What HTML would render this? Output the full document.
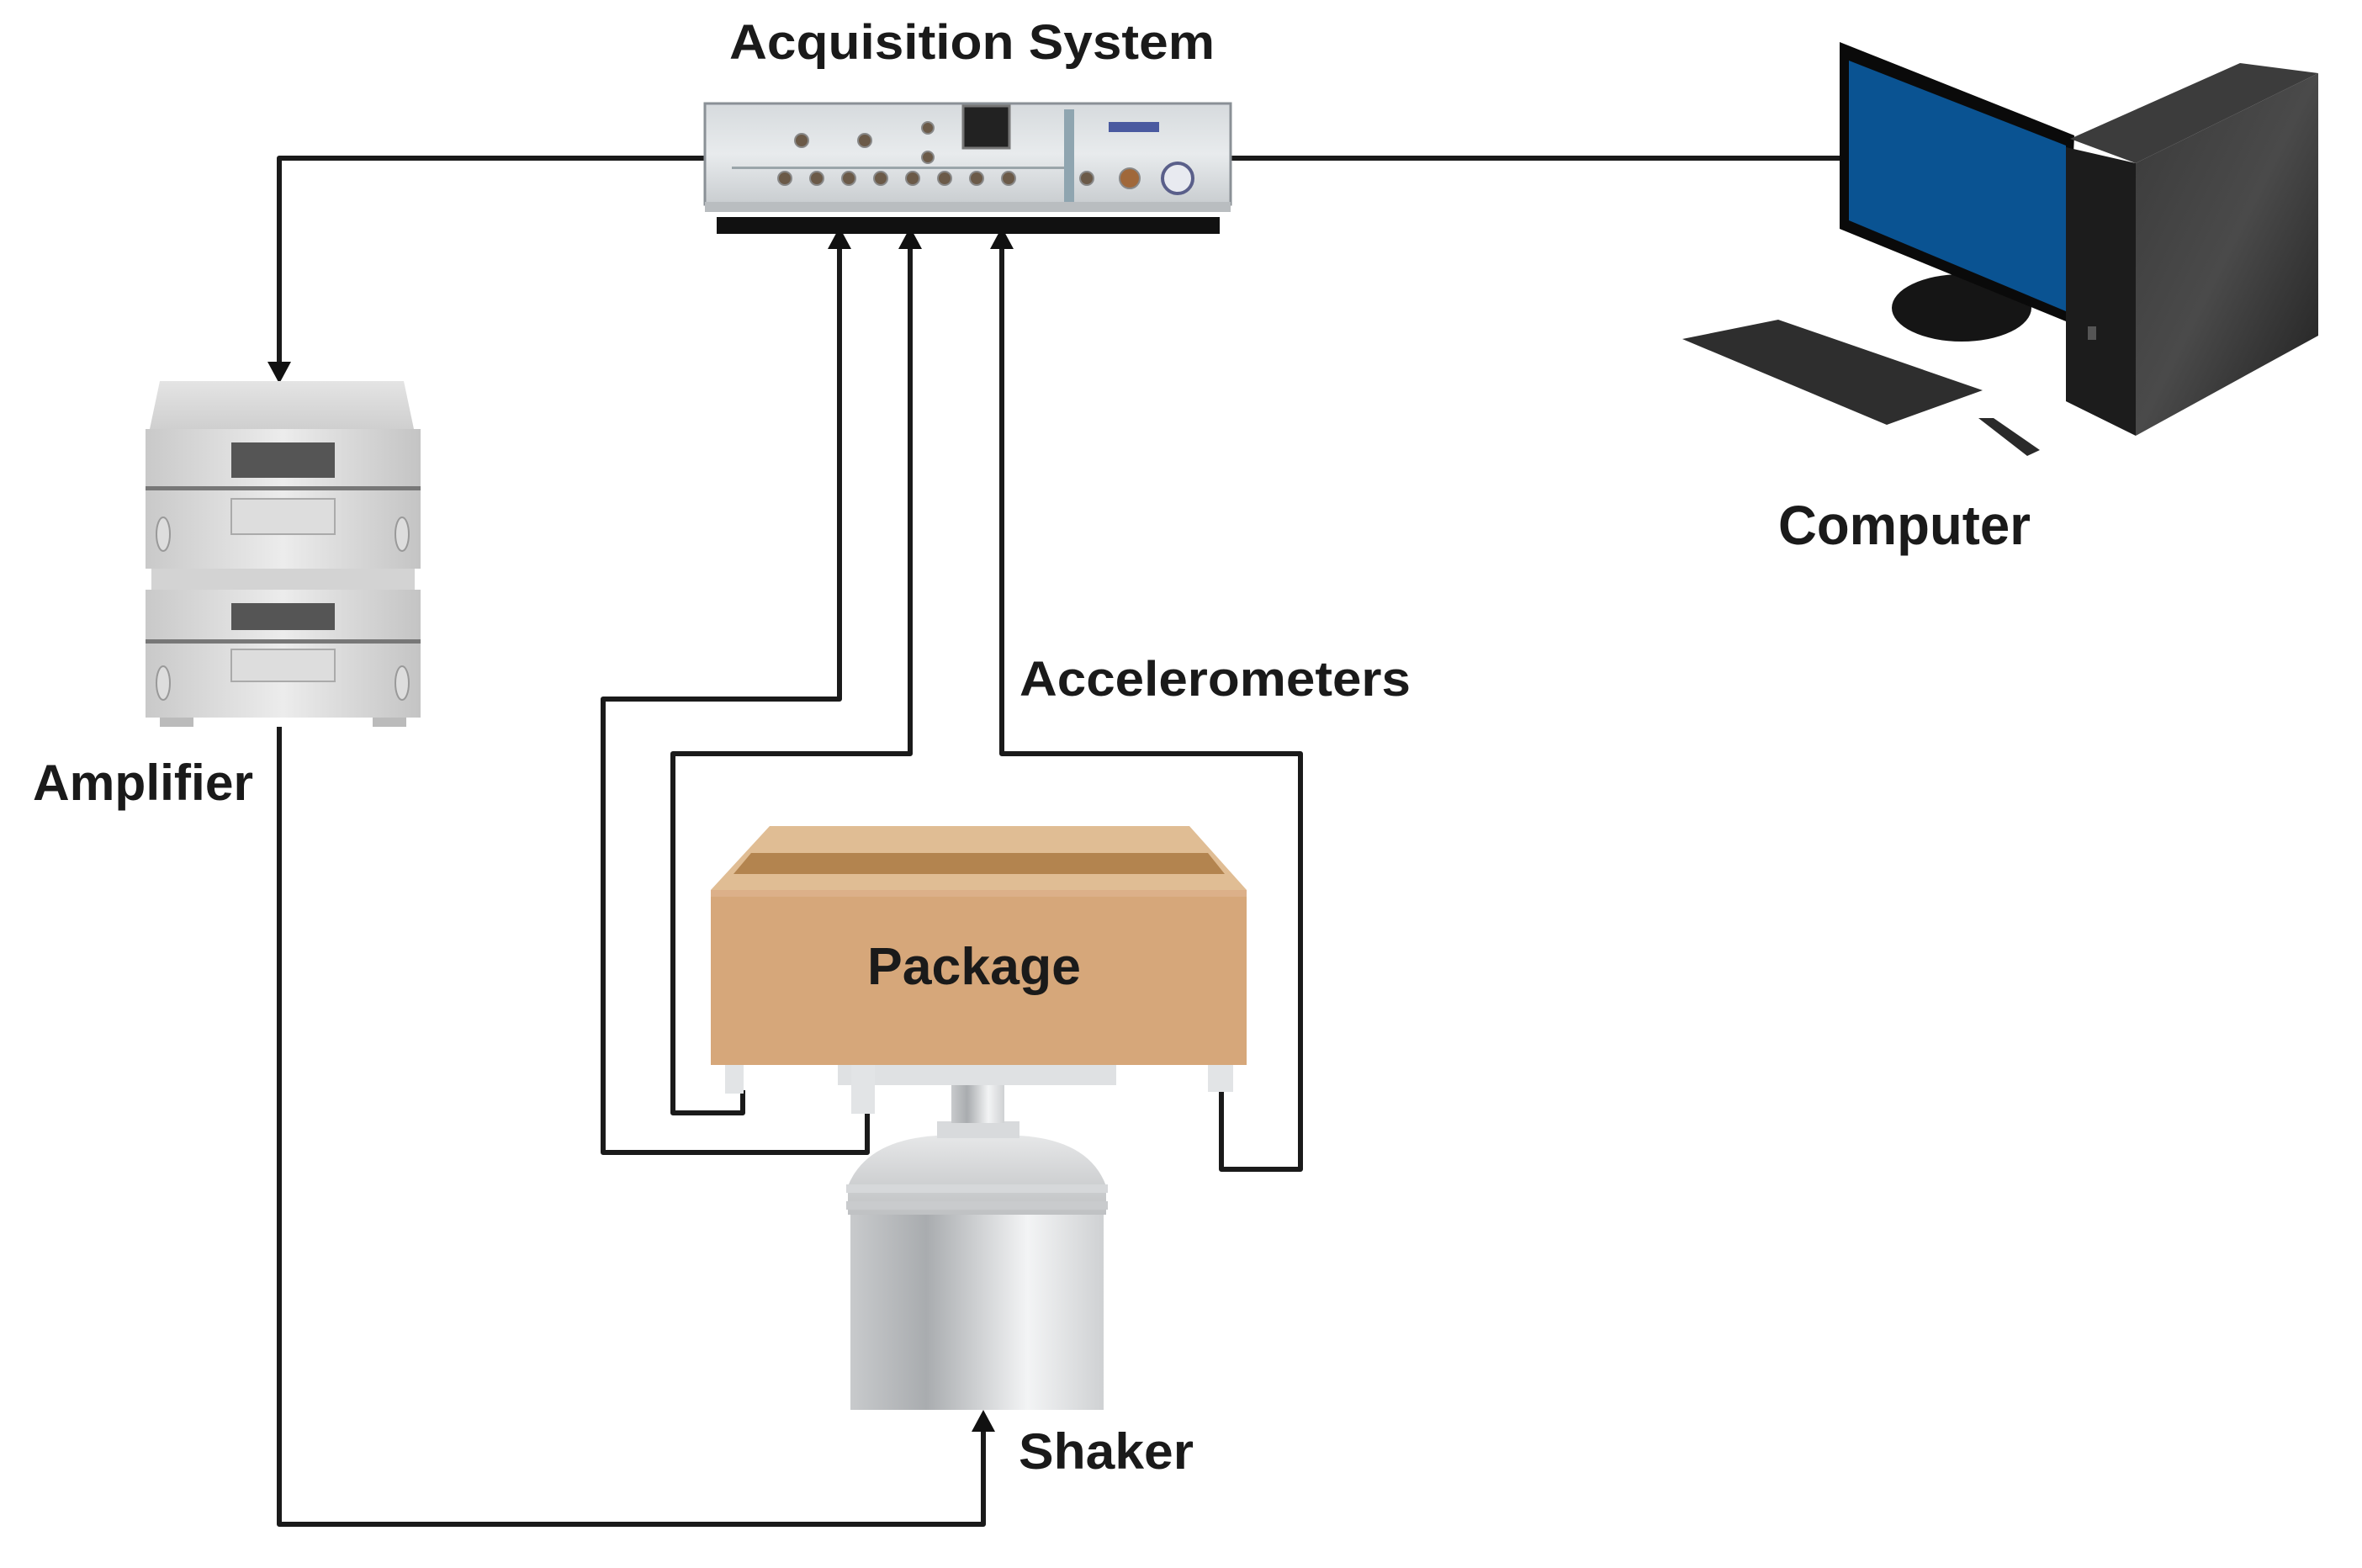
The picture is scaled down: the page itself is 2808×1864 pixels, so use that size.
<!DOCTYPE html>
<html><head><meta charset="utf-8"><style>
html,body{margin:0;padding:0;background:#fff;}
svg{display:block;}
text{font-family:"Liberation Sans",Arial,sans-serif;font-weight:bold;fill:#1a1a1a;}
</style></head><body>
<svg width="2808" height="1864" viewBox="0 0 2808 1864" xmlns="http://www.w3.org/2000/svg">
<defs>
<linearGradient id="amp" x1="0" x2="1"><stop offset="0" stop-color="#c9c9c9"/><stop offset="0.5" stop-color="#ececec"/><stop offset="1" stop-color="#c4c4c4"/></linearGradient>
<linearGradient id="ampTop" x1="0" y1="0" x2="0" y2="1"><stop offset="0" stop-color="#e4e4e4"/><stop offset="1" stop-color="#cfcfcf"/></linearGradient>
<linearGradient id="cyl" x1="0" x2="1"><stop offset="0" stop-color="#c8cacc"/><stop offset="0.3" stop-color="#a9acaf"/><stop offset="0.7" stop-color="#f3f4f5"/><stop offset="1" stop-color="#cfd1d3"/></linearGradient>
<linearGradient id="dome" x1="0" y1="0" x2="0" y2="1"><stop offset="0" stop-color="#e6e7e8"/><stop offset="1" stop-color="#bfc1c3"/></linearGradient>
<linearGradient id="tower" x1="0" y1="0" x2="1" y2="1"><stop offset="0" stop-color="#3a3a3a"/><stop offset="0.5" stop-color="#4a4a4a"/><stop offset="1" stop-color="#1e1e1e"/></linearGradient>
<linearGradient id="dev" x1="0" y1="0" x2="0" y2="1"><stop offset="0" stop-color="#d6dadd"/><stop offset="0.5" stop-color="#e8ebed"/><stop offset="1" stop-color="#c9cdd0"/></linearGradient>
</defs>

<text x="867" y="70" font-size="58" textLength="577" lengthAdjust="spacingAndGlyphs">Acquisition System</text>
<text x="39" y="951" font-size="60" textLength="262" lengthAdjust="spacingAndGlyphs">Amplifier</text>
<text x="1212" y="827" font-size="58" textLength="465" lengthAdjust="spacingAndGlyphs">Accelerometers</text>
<text x="2114" y="647" font-size="66" textLength="300" lengthAdjust="spacingAndGlyphs">Computer</text>
<text x="1211" y="1746" font-size="60" textLength="208" lengthAdjust="spacingAndGlyphs">Shaker</text>

<g fill="none" stroke="#1a1a1a" stroke-width="6" stroke-linejoin="round">
<polyline points="838,188 332,188 332,440"/>
<line x1="1463" y1="188" x2="2187" y2="188"/>
<polyline points="998,283 998,831 717,831 717,1370 1031,1370 1031,1323"/>
<polyline points="1082,283 1082,896 800,896 800,1323 883,1323 883,1296"/>
<polyline points="1191,283 1191,896 1546,896 1546,1390 1452,1390 1452,1296"/>
<polyline points="332,864 332,1812 1169,1812 1169,1690"/>
</g>
<g fill="#111">
<polygon points="332,456 318,430 346,430"/>
<polygon points="998,270 984,296 1012,296"/>
<polygon points="1082,270 1068,296 1096,296"/>
<polygon points="1191,270 1177,296 1205,296"/>
<polygon points="1169,1676 1155,1702 1183,1702"/>
</g>

<rect x="852" y="258" width="598" height="20" fill="#111"/>
<rect x="838" y="123" width="625" height="120" fill="url(#dev)" stroke="#8a9096" stroke-width="3"/>
<rect x="838" y="240" width="625" height="12" fill="#b9bdc0"/>
<rect x="1145" y="126" width="55" height="50" fill="#222" stroke="#777" stroke-width="3"/>
<rect x="870" y="198" width="400" height="3" fill="#9aa5aa"/>
<g fill="#6b5a48" stroke="#888" stroke-width="2">
<circle cx="933" cy="212" r="8"/><circle cx="971" cy="212" r="8"/><circle cx="1009" cy="212" r="8"/><circle cx="1047" cy="212" r="8"/>
<circle cx="1085" cy="212" r="8"/><circle cx="1123" cy="212" r="8"/><circle cx="1161" cy="212" r="8"/><circle cx="1199" cy="212" r="8"/>
<circle cx="953" cy="167" r="8"/><circle cx="1028" cy="167" r="8"/><circle cx="1103" cy="152" r="7"/><circle cx="1103" cy="187" r="7"/>
<circle cx="1292" cy="212" r="8"/><circle cx="1343" cy="212" r="12" fill="#a0683a"/>
</g>
<circle cx="1400" cy="212" r="18" fill="#e8eaf0" stroke="#5a5f8a" stroke-width="4"/>
<rect x="1318" y="145" width="60" height="12" fill="#4a5aa0"/>
<rect x="1265" y="130" width="12" height="110" fill="#8fa5b0"/>

<g>
<polygon points="190,453 480,453 492,510 178,510" fill="url(#ampTop)"/>
<rect x="173" y="510" width="327" height="70" fill="url(#amp)"/>
<rect x="275" y="526" width="123" height="42" fill="#555"/>
<rect x="173" y="578" width="327" height="5" fill="#777"/>
<rect x="173" y="583" width="327" height="93" fill="url(#amp)"/>
<rect x="275" y="593" width="123" height="42" fill="#ddd" stroke="#aaa" stroke-width="2"/>
<ellipse cx="194" cy="635" rx="8" ry="20" fill="#ddd" stroke="#999" stroke-width="2"/>
<ellipse cx="478" cy="635" rx="8" ry="20" fill="#ddd" stroke="#999" stroke-width="2"/>
<rect x="180" y="676" width="313" height="25" fill="#d3d3d3"/>
<rect x="173" y="701" width="327" height="60" fill="url(#amp)"/>
<rect x="275" y="717" width="123" height="32" fill="#555"/>
<rect x="173" y="760" width="327" height="5" fill="#777"/>
<rect x="173" y="765" width="327" height="88" fill="url(#amp)"/>
<rect x="275" y="772" width="123" height="38" fill="#ddd" stroke="#aaa" stroke-width="2"/>
<ellipse cx="194" cy="812" rx="8" ry="20" fill="#ddd" stroke="#999" stroke-width="2"/>
<ellipse cx="478" cy="812" rx="8" ry="20" fill="#ddd" stroke="#999" stroke-width="2"/>
<rect x="190" y="853" width="40" height="11" fill="#bbb"/><rect x="443" y="853" width="40" height="11" fill="#bbb"/>
</g>

<rect x="1011" y="1444" width="301" height="232" fill="url(#cyl)"/>
<path d="M1008,1444 L1008,1410 Q1030,1355 1114,1350 L1212,1350 Q1295,1355 1315,1410 L1315,1444 Z" fill="url(#dome)"/>
<rect x="1006" y="1408" width="311" height="10" fill="#d6d8da"/>
<rect x="1006" y="1428" width="311" height="10" fill="#c9cbcd"/>
<rect x="1114" y="1333" width="98" height="20" fill="#d8dadc"/>
<rect x="1131" y="1289" width="63" height="46" fill="url(#cyl)"/>
<rect x="996" y="1266" width="331" height="24" fill="#dfe1e3"/>
<rect x="862" y="1264" width="22" height="36" fill="#e2e4e6"/>
<rect x="1012" y="1264" width="28" height="60" fill="#e2e4e6"/>
<rect x="1436" y="1264" width="30" height="34" fill="#e2e4e6"/>

<polygon points="915,982 1414,982 1482,1058 845,1058" fill="#e0bd94"/>
<polygon points="893,1014 1436,1014 1456,1039 872,1039" fill="#b3844f"/>
<rect x="845" y="1058" width="637" height="208" fill="#d6a77a"/>
<rect x="845" y="1058" width="637" height="8" fill="#dcb089"/>
<text x="1158" y="1170" font-size="62" text-anchor="middle" textLength="254" lengthAdjust="spacingAndGlyphs">Package</text>

<polygon points="2000,403 2114,380 2357,464 2243,505" fill="#2e2e2e"/>
<ellipse cx="2332" cy="366" rx="83" ry="40" fill="#151515"/>
<polygon points="2187,50 2466,161 2456,382 2187,272" fill="#0a0a0a"/>
<polygon points="2198,72 2456,173 2456,370 2198,262" fill="#0a5392"/>
<polygon points="2461,165 2663,75 2756,87 2539,194" fill="#3c3c3c"/>
<polygon points="2539,194 2756,87 2756,399 2539,518" fill="url(#tower)"/>
<polygon points="2456,175 2539,194 2539,518 2456,477" fill="#1c1c1c"/>
<rect x="2482" y="388" width="10" height="16" fill="#555"/>
<polygon points="2352,497 2370,497 2425,535 2410,542" fill="#2a2a2a"/>
</svg>
</body></html>
